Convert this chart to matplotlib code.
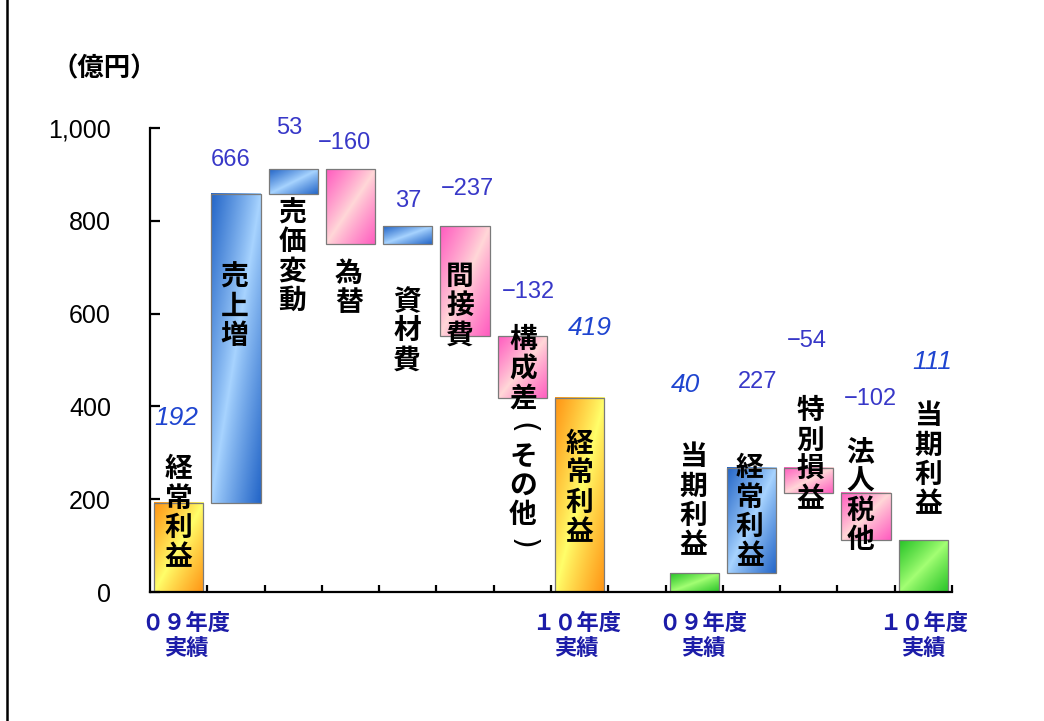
import numpy as np
import matplotlib
matplotlib.use('Agg')
import matplotlib.pyplot as plt
from matplotlib.patches import Rectangle
from matplotlib.lines import Line2D
from matplotlib.colors import to_rgb

# Datos (億円)
categorias = ['経常利益', '売上増', '売価変動', '為替', '資材費', '間接費', '構成差(その他)',
              '経常利益', '', '当期利益', '経常利益', '特別損益', '法人税他', '当期利益']
valores = [192, 666, 53, -160, 37, -237, -132, 419, None, 40, 227, -54, -102, 111]
tipos = ['total', 'up', 'up', 'down', 'up', 'down', 'down', 'total', None,
         'net', 'up', 'down', 'down', 'net']
etiquetas_valor = ['192', '666', '53', '−160', '37', '−237', '−132', '419', '',
                   '40', '227', '−54', '−102', '111']
etiquetas_x = ['０９年度\n実績', '１０年度\n実績', '０９年度\n実績', '１０年度\n実績']
yticks = [0, 200, 400, 600, 800, 1000]
yticklabels = ['0', '200', '400', '600', '800', '1,000']

# Posiciones de textos (en coordenadas de datos)
pos_valor = [(-0.05, 375), (0.9, 931), (1.93, 1000), (2.9, 968), (4.0, 843), (5.05, 868),
             (6.1, 647), (7.18, 569), None, (8.84, 446), (10.1, 453), (10.97, 541),
             (12.07, 416), (13.15, 496)]
pos_cat = [(0.0, 170), (0.97, 614), (1.98, 722), (2.97, 655), (3.99, 562), (4.91, 616),
           (6.01, 323), (7.0, 224), None, (8.98, 196), (9.97, 172), (11.02, 295),
           (11.9, 207), (13.08, 284)]
pos_x = [0.13, 6.95, 9.15, 13.0]

colores = {
    'total': ('#ff9414', '#ffff6a'),
    'up': ('#2466c8', '#a8d4ff'),
    'down': ('#ff5cc0', '#ffd8d8'),
    'net': ('#28c428', '#a4ff74'),
}

fuente_num = ['Liberation Sans', 'Noto Sans CJK JP', 'DejaVu Sans']
fuente_jp = ['Noto Sans CJK JP', 'DejaVu Sans']


def gradiente(c_borde, c_centro, n=60):
    # degradado diagonal reflejado: oscuro en esquinas, claro en el centro
    xn = np.linspace(0, 1, n)
    yn = np.linspace(0, 1, n)
    X, Y = np.meshgrid(xn, yn)
    s = (X + Y) / 2
    t = np.abs(2 * s - 1) ** 0.9
    a = np.array(to_rgb(c_borde))
    b = np.array(to_rgb(c_centro))
    return b + t[..., None] * (a - b)


fig = plt.figure(figsize=(10.44, 7.21), dpi=100)
ax = fig.add_axes([150 / 1044, 1 - 592 / 721, 802 / 1044, 464 / 721])
ax.set_xlim(-0.5, 13.5)
ax.set_ylim(0, 1000)

ancho = 0.86
nivel = 0
for i, (v, tp) in enumerate(zip(valores, tipos)):
    if v is None:
        continue
    if tp in ('total', 'net'):
        abajo, arriba = 0, v
        nivel = v
    else:
        abajo, arriba = sorted([nivel, nivel + v])
        nivel = nivel + v
    x0, x1 = i - ancho / 2, i + ancho / 2
    img = gradiente(*colores[tp])
    ax.imshow(img, extent=(x0, x1, abajo, arriba), aspect='auto', origin='upper',
              interpolation='bilinear', zorder=1)
    ax.add_patch(Rectangle((x0, abajo), ancho, arriba - abajo, fill=False,
                           edgecolor='#7a7a7a', linewidth=0.9, zorder=2))

# etiquetas de valor
for i, et in enumerate(etiquetas_valor):
    if not et:
        continue
    x, y = pos_valor[i]
    if tipos[i] in ('total', 'net'):
        ax.text(x, y, et, ha='center', va='center', fontsize=19, style='italic',
                color='#1f45d0', family=fuente_num, zorder=4, clip_on=False)
    else:
        ax.text(x, y, et, ha='center', va='center', fontsize=17,
                color='#3838c8', family=fuente_num, zorder=4, clip_on=False)

# etiquetas de categoria en vertical
paso = 21
for i, cat in enumerate(categorias):
    if not cat:
        continue
    x, y = pos_cat[i]
    n = len(cat)
    for k, ch in enumerate(cat):
        if ch in '()':
            # parentesis girados (escritura vertical)
            ax.annotate(ch, (x, y), xytext=(0, ((n - 1) / 2 - k) * paso),
                        textcoords='offset points', ha='center', va='center',
                        fontsize=22, rotation=-90, color='black',
                        family=['DejaVu Sans'], zorder=4, annotation_clip=False)
            continue
        ax.annotate(ch, (x, y), xytext=(0, ((n - 1) / 2 - k) * paso),
                    textcoords='offset points', ha='center', va='center',
                    fontsize=20, fontweight='bold', color='black',
                    family=fuente_jp, zorder=4, annotation_clip=False)

# etiquetas inferiores
for x, et in zip(pos_x, etiquetas_x):
    ax.text(x, -95, et, ha='center', va='center', fontsize=16, fontweight='bold',
            color='#1c1ca8', family=fuente_jp, linespacing=1.15, clip_on=False)

ax.spines['top'].set_visible(False)
ax.spines['right'].set_visible(False)
ax.spines['left'].set_linewidth(1.6)
ax.spines['bottom'].set_linewidth(1.6)
ax.set_yticks(yticks)
ax.set_yticklabels(yticklabels, family=fuente_num, fontsize=18)
ax.set_xticks(np.arange(0.5, 14, 1))
ax.set_xticklabels([])
ax.tick_params(axis='y', direction='in', length=7, width=1.6, pad=28)
ax.tick_params(axis='x', direction='in', length=5, width=1.6)

fig.text(104 / 1044, 1 - 69 / 721, '（億円）', ha='center', va='center', fontsize=19,
         fontweight='bold', family=fuente_jp, color='black')

# borde izquierdo
fig.add_artist(Line2D([7 / 1044, 7 / 1044], [0, 1], transform=fig.transFigure,
                      color='black', linewidth=1.8))

fig.savefig('out.png', dpi=100)
